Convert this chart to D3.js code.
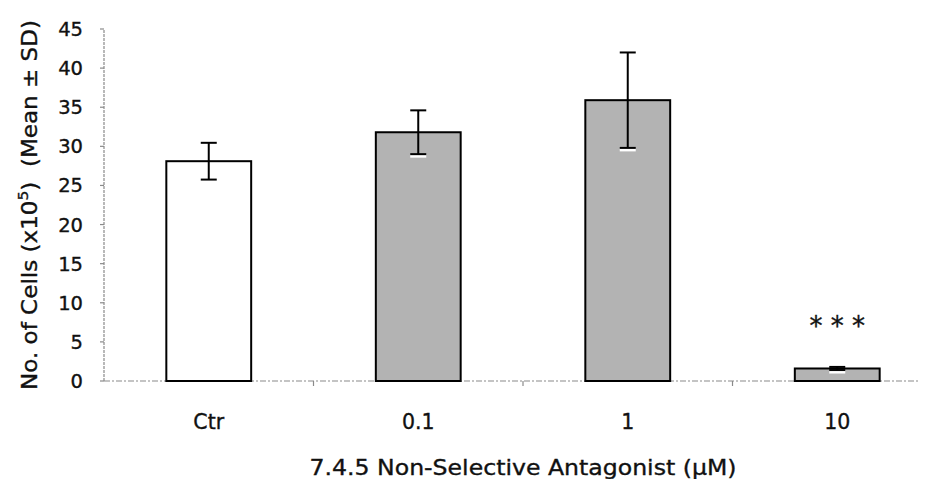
<!DOCTYPE html>
<html>
<head>
<meta charset="utf-8">
<script src="https://cdn.jsdelivr.net/npm/d3@7"></script>
<style>
  body { margin: 0; background: #fff; }
  svg { display: block; font-family: "DejaVu Sans", "Liberation Sans", Arial, sans-serif; }
  svg text { fill: #111; stroke: #111; stroke-width: 0.35px; }
  .tick-label { font-size: 19.5px; }
  .cat-label { font-size: 20.5px; }
  .axis-title { font-size: 21px; }
</style>
</head>
<body>
<div id="chart"></div>
<script>
// Cell counts per antagonist dose.
const categories = ['Ctr', '0.1', '1', '10'];
const means = [28.1, 31.8, 35.9, 1.6];
const sds = [2.35, 2.8, 6.1, 0.2];
const marks = ['', '', '', '* * *'];
const yTicks = [0, 5, 10, 15, 20, 25, 30, 35, 40, 45];

const W = 936, H = 479;
const svg = d3.select('#chart').append('svg').attr('width', W).attr('height', H);

// plot frame in page pixels (the right edge runs off the scan, as in the original)
const plotLeft = 104, plotBottom = 381, plotTop = 29, plotRight = 942, axisEnd = 920;

const x = d3.scaleBand().domain(categories).range([plotLeft, plotRight]).paddingInner(0).paddingOuter(0);
const y = d3.scaleLinear().domain([0, 45]).range([plotBottom, plotTop]);
const barW = x.bandwidth() * 0.405;

const axisColor = '#8a8a8a';

// y axis: dotted grey line, ticks pointing out
svg.append('line')
  .attr('x1', plotLeft).attr('x2', plotLeft)
  .attr('y1', y(0)).attr('y2', y(45))
  .attr('stroke', axisColor).attr('stroke-width', 1.2)
  .attr('stroke-dasharray', '3,1');
svg.selectAll('line.ytick')
  .data(yTicks)
  .join('line')
  .attr('class', 'ytick')
  .attr('x1', plotLeft - 4).attr('x2', plotLeft)
  .attr('y1', (d) => y(d)).attr('y2', (d) => y(d))
  .attr('stroke', axisColor).attr('stroke-width', 1.2);
svg.selectAll('text.tick-label')
  .data(yTicks)
  .join('text')
  .attr('class', 'tick-label')
  .attr('x', 83)
  .attr('y', (d) => y(d))
  .attr('dy', '0.36em')
  .attr('text-anchor', 'end')
  .text((d) => d);

// x axis line with ticks at category boundaries
svg.append('line')
  .attr('x1', plotLeft).attr('x2', axisEnd)
  .attr('y1', y(0)).attr('y2', y(0))
  .attr('stroke', axisColor).attr('stroke-width', 1.2)
  .attr('stroke-dasharray', '6,2,2,2');
svg.selectAll('line.xtick')
  .data(categories.slice(1))
  .join('line')
  .attr('class', 'xtick')
  .attr('x1', (d) => x(d)).attr('x2', (d) => x(d))
  .attr('y1', y(0)).attr('y2', y(0) + 5)
  .attr('stroke', axisColor).attr('stroke-width', 1.2);

// bars: control is open, treated are grey
svg.selectAll('rect.bar')
  .data(categories)
  .join('rect')
  .attr('class', 'bar')
  .attr('x', (d) => x(d) + (x.bandwidth() - barW) / 2)
  .attr('y', (d, i) => y(means[i]))
  .attr('width', barW)
  .attr('height', (d, i) => y(0) - y(means[i]))
  .attr('fill', (d, i) => (i === 0 ? '#fff' : '#b3b3b3'))
  .attr('stroke', '#000')
  .attr('stroke-width', 2);

// error bars (mean ± SD)
const cx = (d) => x(d) + x.bandwidth() / 2;
const capW = 16;
const err = svg.append('g').attr('class', 'errors');
categories.forEach((c, i) => {
  const hi = y(means[i] + sds[i]);
  const lo = y(means[i] - sds[i]);
  if (i > 0) {
    // white halo around the part that sits inside the grey bar
    err.append('line')
      .attr('x1', cx(c) - capW / 2).attr('x2', cx(c) + capW / 2)
      .attr('y1', lo + 2).attr('y2', lo + 2)
      .attr('stroke', '#fff').attr('stroke-width', 3);
  }
  err.append('line')
    .attr('x1', cx(c)).attr('x2', cx(c))
    .attr('y1', hi).attr('y2', lo)
    .attr('stroke', '#000').attr('stroke-width', 2);
  [hi, lo].forEach((yy) => {
    err.append('line')
      .attr('x1', cx(c) - capW / 2).attr('x2', cx(c) + capW / 2)
      .attr('y1', yy).attr('y2', yy)
      .attr('stroke', '#000').attr('stroke-width', 2);
  });
});

// significance marks
svg.selectAll('text.sig')
  .data(categories)
  .join('text')
  .attr('class', 'sig')
  .attr('x', (d) => cx(d))
  .attr('y', (d, i) => y(means[i] + sds[i]) - 32)
  .attr('text-anchor', 'middle')
  .attr('font-size', 26)
  .text((d, i) => marks[i]);

// category labels
svg.selectAll('text.cat-label')
  .data(categories)
  .join('text')
  .attr('class', 'cat-label')
  .attr('x', (d) => cx(d))
  .attr('y', 429)
  .attr('text-anchor', 'middle')
  .text((d) => d);

// axis titles
const xMid = (plotLeft + plotRight) / 2;
svg.append('text')
  .attr('class', 'axis-title')
  .attr('x', xMid)
  .attr('y', 475)
  .attr('text-anchor', 'middle')
  .attr('textLength', 427)
  .attr('lengthAdjust', 'spacingAndGlyphs')
  .text('7.4.5 Non-Selective Antagonist (\u00b5M)');

const yTitle = svg.append('text')
  .attr('class', 'axis-title')
  .attr('transform', `translate(37,205) rotate(-90)`)
  .attr('text-anchor', 'middle')
  .attr('textLength', 370)
  .attr('lengthAdjust', 'spacingAndGlyphs');
yTitle.append('tspan').text('No. of Cells (x10');
yTitle.append('tspan').attr('font-size', 14).attr('dy', -9).text('5');
yTitle.append('tspan').attr('dy', 9).text(')\u00a0\u00a0(Mean \u00b1 SD)');
</script>
</body>
</html>
